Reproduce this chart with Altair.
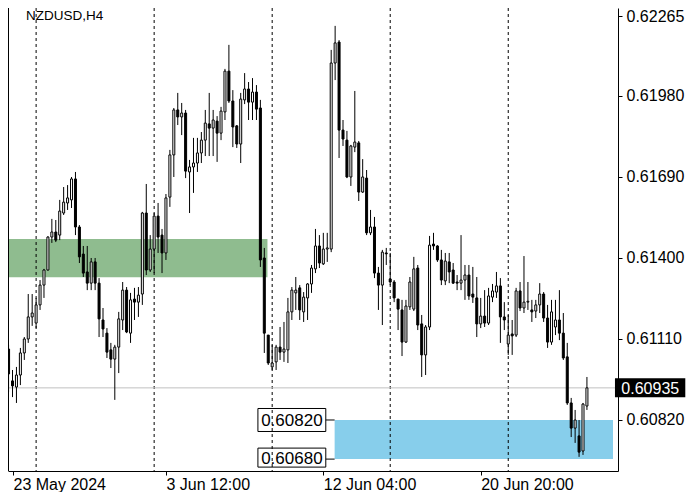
import altair as alt
import pandas as pd

# ---- data: H4 candles, prices in points (1e-5) ----
opens = [61074, 60960, 60938, 60981, 61060, 61110, 61189, 61167, 61232, 61303,
         61357, 61475, 61493, 61482, 61561, 61597, 61608, 61683, 61511, 61414,
         61350, 61310, 61386, 61310, 61178, 61131, 61071, 61038, 61081, 61178,
         61285, 61131, 61253, 61242, 61271, 61561, 61357, 61432, 61550, 61482,
         61418, 61618, 61769, 61930, 61905, 61919, 61708, 61726, 61740, 61776,
         61822, 61880, 61865, 61890, 61847, 61923, 62069, 61962, 61873, 61808,
         61966, 62005, 61958, 61994, 61937, 61400, 61124, 61010, 61028, 61081,
         61063, 61071, 61207, 61275, 61293, 61207, 61257, 61307, 61361, 61443,
         61379, 61432, 61432, 62098, 62173, 61858, 61822, 61690, 61797, 61812,
         61636, 61686, 61490, 61511, 61346, 61303, 61418, 61325, 61314, 61253,
         61214, 61099, 61225, 61217, 61364, 61164, 61053, 61153, 61450, 61443,
         61393, 61318, 61386, 61357, 61314, 61310, 61321, 61339, 61271, 61257,
         61164, 61192, 61167, 61260, 61278, 61300, 61189, 61092, 61128, 61124,
         61282, 61221, 61242, 61214, 61210, 61232, 61271, 61185, 61099, 61153,
         61178, 61131, 61046, 60881, 60791, 60763, 60709, 60870]
highs = [61089, 60999, 61010, 61078, 61117, 61271, 61271, 61257, 61321, 61361,
         61478, 61540, 61536, 61608, 61654, 61661, 61690, 61708, 61518, 61443,
         61443, 61400, 61400, 61328, 61221, 61149, 61096, 61089, 61207, 61314,
         61296, 61275, 61293, 61296, 61565, 61665, 61482, 61561, 61597, 61504,
         61629, 61787, 61937, 61991, 61955, 61930, 61751, 61830, 61830, 61851,
         61930, 61991, 61930, 61908, 61941, 62077, 62163, 62001, 61876, 61991,
         62062, 62030, 62044, 62019, 61966, 61436, 61124, 61089, 61089, 61153,
         61171, 61257, 61296, 61332, 61303, 61278, 61310, 61375, 61504, 61482,
         61490, 61490, 62145, 62231, 62180, 61894, 61855, 61805, 61998, 61819,
         61754, 61715, 61572, 61547, 61368, 61429, 61436, 61418, 61321, 61253,
         61250, 61250, 61332, 61404, 61375, 61196, 61160, 61479, 61490, 61446,
         61429, 61418, 61418, 61382, 61339, 61482, 61375, 61375, 61368, 61332,
         61257, 61285, 61293, 61307, 61350, 61328, 61242, 61196, 61178, 61293,
         61314, 61407, 61314, 61250, 61250, 61310, 61278, 61232, 61250, 61250,
         61285, 61203, 61096, 60899, 60856, 60820, 60881, 60974]
lows = [60920, 60902, 60881, 60945, 61035, 61096, 61157, 61149, 61214, 61257,
        61355, 61454, 61457, 61464, 61554, 61572, 61579, 61482, 61382, 61332,
        61285, 61285, 61285, 61117, 61117, 61042, 61006, 60892, 60988, 61142,
        61131, 61096, 61178, 61189, 61232, 61339, 61350, 61346, 61418, 61346,
        61393, 61583, 61690, 61876, 61840, 61686, 61561, 61633, 61708, 61740,
        61765, 61765, 61765, 61744, 61822, 61894, 61955, 61797, 61794, 61740,
        61951, 61894, 61894, 61894, 61368, 61060, 61017, 60999, 60999, 61035,
        61028, 61024, 61178, 61214, 61178, 61171, 61178, 61275, 61346, 61364,
        61375, 61386, 61421, 62037, 61758, 61801, 61686, 61658, 61779, 61604,
        61633, 61482, 61482, 61328, 61214, 61160, 61375, 61303, 61242, 61142,
        61049, 61096, 61214, 61210, 61142, 60974, 60981, 61142, 61429, 61386,
        61303, 61303, 61310, 61307, 61285, 61285, 61250, 61250, 61239, 61117,
        61149, 61153, 61160, 61242, 61257, 61096, 61142, 61053, 61053, 61117,
        61210, 61203, 61214, 61171, 61185, 61203, 61171, 61078, 61089, 61124,
        61106, 61035, 60874, 60759, 60738, 60688, 60695, 60856]
closes = [60985, 60942, 60981, 61060, 61110, 61189, 61203, 61232, 61303, 61357,
          61475, 61493, 61464, 61568, 61600, 61615, 61683, 61511, 61404, 61346,
          61310, 61386, 61310, 61182, 61146, 61063, 61038, 61081, 61182, 61285,
          61135, 61250, 61242, 61267, 61561, 61357, 61432, 61550, 61475, 61418,
          61615, 61769, 61930, 61905, 61919, 61711, 61726, 61740, 61776, 61822,
          61883, 61865, 61894, 61847, 61926, 62069, 61962, 61869, 61808, 61969,
          62005, 61958, 61994, 61933, 61393, 61131, 61024, 61024, 61081, 61063,
          61074, 61207, 61285, 61285, 61214, 61260, 61307, 61364, 61443, 61382,
          61432, 61436, 62098, 62170, 61858, 61826, 61690, 61801, 61815, 61636,
          61690, 61490, 61511, 61346, 61303, 61421, 61415, 61314, 61257, 61217,
          61099, 61228, 61314, 61361, 61160, 61053, 61153, 61446, 61443, 61393,
          61321, 61389, 61350, 61310, 61310, 61321, 61339, 61264, 61260, 61164,
          61192, 61167, 61264, 61282, 61300, 61189, 61178, 61124, 61121, 61282,
          61221, 61242, 61245, 61207, 61232, 61271, 61185, 61099, 61207, 61178,
          61131, 61042, 60881, 60791, 60820, 60705, 60877, 60935]

time_tick_bars = [0, 40, 80, 120]
time_tick_labels = ["23 May 2024", "3 Jun 12:00", "12 Jun 04:00", "20 Jun 20:00"]
grid_bars = [7, 37, 67, 97, 127]
price_ticks = [0.62265, 0.61980, 0.61690, 0.61400, 0.61110, 0.60820]
last_price = 0.60935
zone_names = ["green", "blue"]
zone_low = [0.61331, 0.60680]
zone_high = [0.61468, 0.60820]
zone_start = [0, 82.875]
zone_end = [65.8, 153.625]
level_labels = [0.60820, 0.60680]

n = len(opens)
df = pd.DataFrame({
    "i": list(range(n)),
    "o": [v / 1e5 for v in opens],
    "h": [v / 1e5 for v in highs],
    "l": [v / 1e5 for v in lows],
    "c": [v / 1e5 for v in closes],
})

X_DOM = [1.125, 153.625]
Y_DOM = [0.606374, 0.622950]
PX = (Y_DOM[1] - Y_DOM[0]) / 463.0
FONT = "Liberation Sans"

xs = alt.Scale(domain=X_DOM, nice=False, zero=False)
ys = alt.Scale(domain=Y_DOM, nice=False, zero=False)

tick_vals = [max(b, X_DOM[0]) for b in time_tick_bars]
expr = "''"
for v, lab in reversed(list(zip(tick_vals, time_tick_labels))):
    expr = f"abs(datum.value - {v}) < 0.01 ? '{lab}' : ({expr})"

x_axis = alt.Axis(values=tick_vals, labelExpr=expr, orient="bottom", title=None,
                  grid=False, domainColor="black", tickColor="black", tickSize=4,
                  labelAlign="left", labelBaseline="top", labelPadding=1,
                  labelFont=FONT, labelFontSize=16, labelColor="black",
                  labelFlush=False, labelOverlap=False)
y_axis = alt.Axis(values=price_ticks, format=".5f", orient="right", title=None,
                  grid=False, domainColor="black", tickColor="black", tickSize=4,
                  labelPadding=4, labelFont=FONT, labelFontSize=16, labelColor="black",
                  labelFlush=False, labelOverlap=False)


def X(field):
    return alt.X(field, scale=xs, axis=x_axis)


def Y(field):
    return alt.Y(field, scale=ys, axis=y_axis)


zones = pd.DataFrame({"name": zone_names, "lo": zone_low, "hi": zone_high,
                      "x0": zone_start, "x1": zone_end})
zone_layer = alt.Chart(zones).mark_rect(clip=True).encode(
    x=X("x0:Q"), x2="x1:Q", y=Y("lo:Q"), y2="hi:Q",
    color=alt.Color("name:N", scale=alt.Scale(domain=zone_names, range=["#8FBC8F", "#87CEEB"]), legend=None),
)

# level label boxes left of the blue zone
lv = pd.DataFrame({"p": level_labels, "t": [f"{v:.5f}" for v in level_labels],
                   "top": [level_labels[0] + 11.5 * PX, level_labels[1] + 11 * PX],
                   "bot": [level_labels[0] - 11.5 * PX, level_labels[1] - 8 * PX],
                   "mid": [level_labels[0], level_labels[1] + 1.5 * PX],
                   "x0": [63.375, 63.375], "x1": [80.625, 80.625], "xc": [72.0, 72.0],
                   "xe": [82.875, 82.875]})
lv_box = alt.Chart(lv).mark_rect(fill="white", stroke="black", strokeWidth=1).encode(
    x=X("x0:Q"), x2="x1:Q", y=Y("top:Q"), y2="bot:Q")
lv_line = alt.Chart(lv).mark_rule(color="black", strokeWidth=1).encode(
    x=X("x1:Q"), x2="xe:Q", y=Y("p:Q"))
lv_text = alt.Chart(lv).mark_text(font=FONT, fontSize=17, color="black", baseline="middle", dy=1).encode(
    x=X("xc:Q"), y=Y("mid:Q"), text="t:N")

grid = alt.Chart(pd.DataFrame({"g": grid_bars})).mark_rule(
    color="black", strokeWidth=1, strokeDash=[3, 3]).encode(x=X("g:Q"))

last_df = pd.DataFrame({"p": [last_price], "t": [f"{last_price:.5f}"],
                        "top": [last_price + 9.5 * PX], "bot": [last_price - 9.5 * PX],
                        "bx0": [154.125], "bx1": [172.0], "tx": [155.75]})
last_line = alt.Chart(last_df).mark_rule(color="#c0c0c0", strokeWidth=1).encode(y=Y("p:Q"))
last_box = alt.Chart(last_df).mark_rect(fill="black", clip=False).encode(
    x=X("bx0:Q"), x2="bx1:Q", y=Y("top:Q"), y2="bot:Q")
last_text = alt.Chart(last_df).mark_text(font=FONT, fontSize=16, color="white",
                                         align="left", baseline="middle", dy=1).encode(
    x=X("tx:Q"), y=Y("p:Q"), text="t:N")

wicks = alt.Chart(df).mark_rule(color="black", strokeWidth=1).encode(
    x=X("i:Q"), y=Y("l:Q"), y2="h:Q")
bodies = alt.Chart(df).mark_bar(size=2, stroke="black", strokeWidth=1).encode(
    x=X("i:Q"), y=Y("o:Q"), y2="c:Q",
    fill=alt.condition("datum.c >= datum.o", alt.value("white"), alt.value("black")))

frame = alt.Chart(pd.DataFrame({"k": [0]})).mark_rule(color="black", strokeWidth=1).encode(
    x=alt.value(0.5), y=alt.value(0), y2=alt.value(463))

title = alt.Chart(pd.DataFrame({"t": ["NZDUSD,H4"]})).mark_text(
    font=FONT, fontSize=13.5, color="black", align="left", baseline="alphabetic").encode(
    x=alt.value(18), y=alt.value(12), text="t:N")

chart = alt.layer(zone_layer, lv_box, lv_line, lv_text, grid, last_line, wicks, bodies,
                  frame, title, last_box, last_text).properties(
    width=610, height=463,
    autosize=alt.AutoSizeParams(type="none"),
    padding={"left": 0, "top": 0, "right": 74, "bottom": 21},
).configure(background="white").configure_view(stroke=None)

chart.save("out.html", embed_options={"renderer": "svg", "actions": False})
